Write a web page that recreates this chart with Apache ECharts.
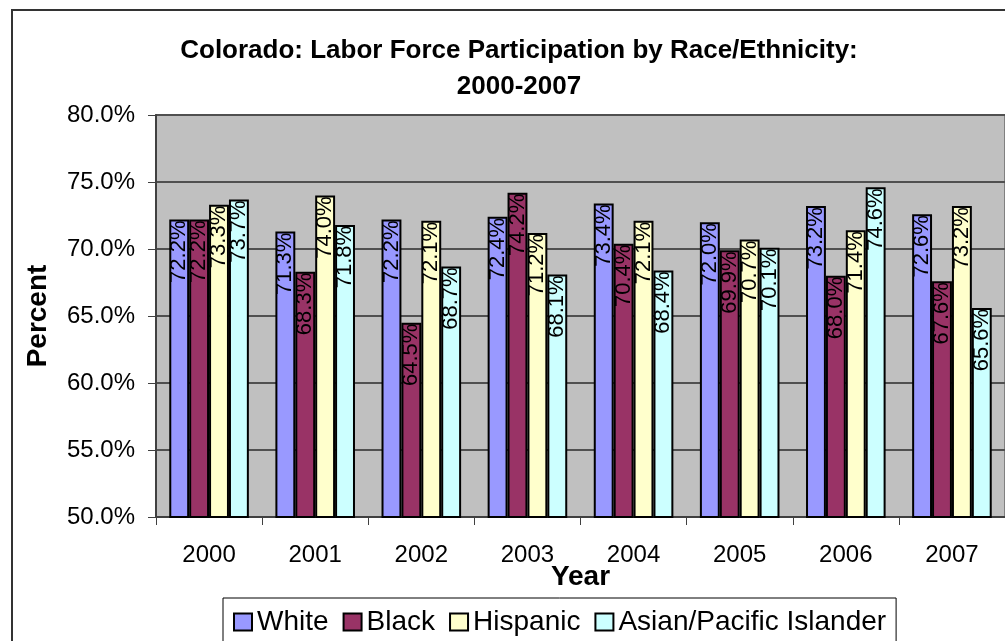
<!DOCTYPE html>
<html>
<head>
<meta charset="utf-8">
<title>Colorado: Labor Force Participation by Race/Ethnicity</title>
<script src="https://cdn.jsdelivr.net/npm/echarts@6/dist/echarts.min.js"></script>
<style>
  html, body { margin: 0; padding: 0; background: #fff; }
  #chart { width: 1005px; height: 641px; }
</style>
</head>
<body>
<div id="chart"></div>
<script>
// values
const years = ["2000", "2001", "2002", "2003", "2004", "2005", "2006", "2007"];
const white = [72.2, 71.3, 72.2, 72.4, 73.4, 72.0, 73.2, 72.6];
const black = [72.2, 68.3, 64.5, 74.2, 70.4, 69.9, 68.0, 67.6];
const hispanic = [73.3, 74.0, 72.1, 71.2, 72.1, 70.7, 71.4, 73.2];
const asian = [73.7, 71.8, 68.7, 68.1, 68.4, 70.1, 74.6, 65.6];
const seriesNames = ["White", "Black", "Hispanic", "Asian/Pacific Islander"];
const colors = ["#9999FF", "#993366", "#FFFFCC", "#CCFFFF"];

const FONT = "'Liberation Sans', Arial, sans-serif";

const chart = echarts.init(document.getElementById("chart"), null, { renderer: "canvas" });

const makeSeries = (name, data, color) => ({
  name: name,
  type: "bar",
  data: data,
  barGap: "0%",
  barCategoryGap: "25%",
  itemStyle: { color: color, borderColor: "#000", borderWidth: 2 },
  label: {
    show: true,
    position: "insideTop",
    distance: 1,
    rotate: 90,
    align: "right",
    verticalAlign: "middle",
    color: "#000",
    fontFamily: FONT,
    fontSize: 22,
    formatter: (p) => p.value.toFixed(1) + "%",
  },
});

const option = {
  animation: false,
  textStyle: { fontFamily: FONT },
  title: {
    text: "Colorado: Labor Force Participation by Race/Ethnicity:\n2000-2007",
    left: 514,
    top: 28,
    textAlign: "center",
    textStyle: {
      fontFamily: FONT,
      fontWeight: "bold",
      fontSize: 26,
      lineHeight: 36,
      color: "#000",
    },
  },
  graphic: [
    {
      type: "rect",
      shape: { x: 12, y: 10, width: 1100, height: 800 },
      style: { fill: "none", stroke: "#333", lineWidth: 2 },
      silent: true,
      z: -10,
    },
  ],
  legend: {
    data: seriesNames,
    left: 223,
    top: 598,
    orient: "horizontal",
    icon: "rect",
    itemWidth: 18,
    itemHeight: 17,
    itemGap: 14,
    padding: [10, 10, 40, 10],
    borderColor: "#000",
    borderWidth: 1,
    textStyle: { fontFamily: FONT, fontSize: 28, color: "#000" },
  },
  grid: {
    left: 156,
    top: 115,
    width: 856,
    height: 402,
    show: true,
    backgroundColor: "#C0C0C0",
    borderColor: "#808080",
    borderWidth: 2,
  },
  xAxis: {
    type: "category",
    data: years,
    name: "Year",
    nameLocation: "middle",
    nameGap: 46,
    nameMoveOverlap: false,
    nameTextStyle: { fontFamily: FONT, fontWeight: "bold", fontSize: 28, color: "#000" },
    axisLine: { lineStyle: { color: "#404040", width: 2 } },
    axisTick: { show: true, length: 8, lineStyle: { color: "#404040", width: 1 } },
    axisLabel: { color: "#000", fontFamily: FONT, fontSize: 24, margin: 26 },
  },
  yAxis: {
    type: "value",
    min: 50,
    max: 80,
    interval: 5,
    name: "Percent",
    nameLocation: "middle",
    nameGap: 104,
    nameMoveOverlap: false,
    nameTextStyle: { fontFamily: FONT, fontWeight: "bold", fontSize: 28, color: "#000" },
    axisLine: { show: true, lineStyle: { color: "#404040", width: 2 } },
    axisTick: { show: true, length: 8, lineStyle: { color: "#404040", width: 1 } },
    axisLabel: {
      color: "#000",
      fontFamily: FONT,
      fontSize: 24,
      margin: 21,
      formatter: (v) => v.toFixed(1) + "%",
    },
    splitLine: { show: true, lineStyle: { color: "#505050", width: 2 } },
  },
  series: [
    makeSeries(seriesNames[0], white, colors[0]),
    makeSeries(seriesNames[1], black, colors[1]),
    makeSeries(seriesNames[2], hispanic, colors[2]),
    makeSeries(seriesNames[3], asian, colors[3]),
  ],
};

chart.setOption(option);
</script>
</body>
</html>
